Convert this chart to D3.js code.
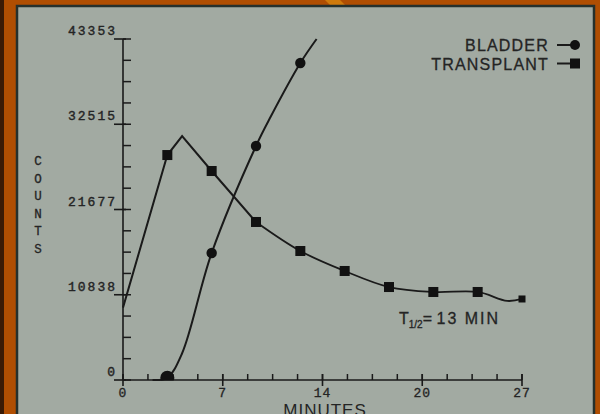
<!DOCTYPE html>
<html><head><meta charset="utf-8">
<script src="https://cdn.jsdelivr.net/npm/d3@7"></script>
<style>
html,body{margin:0;padding:0;background:#b04e02;}
svg{display:block;}
</style></head>
<body>
<svg id="chart" width="600" height="414"></svg>
<script>
// ---- data ----
const yTickValues = [0, 10838.25, 21676.5, 32514.75, 43353];
const yTickLabels = ["0", "10838", "21677", "32515", "43353"];
const xTickValues = [0, 6.75, 13.5, 20.25, 27];
const xTickLabels = ["0", "7", "14", "20", "27"];

const bladderTimes  = [2, 3, 4, 6, 9, 10, 12, 13.1];
const bladderCounts = [0, 300, 3400, 16150, 29750, 33500, 40300, 43353];
const bladderMarked = [false, true, false, true, true, false, true, false];

const transplantTimes  = [0, 3, 4, 6, 9, 12, 15, 18, 21, 24, 26, 27];
const transplantCounts = [9200, 28600, 31000, 26570, 20090, 16400, 13860, 11820, 11190, 11190, 10050, 10300];
const transplantMarked = [false, true, false, true, true, true, true, true, true, true, false, true];

const seriesNames = ["BLADDER", "TRANSPLANT"];

// ---- drawing ----
const svg = d3.select("#chart");
const ink = "#1a1a1a";
const txt = "#242424";

// background frame
svg.append("rect").attr("x",0).attr("y",0).attr("width",600).attr("height",414).attr("fill","#b04e02");
svg.append("rect").attr("x",0).attr("y",0).attr("width",4).attr("height",414).attr("fill","#3a1a05");
svg.append("polygon").attr("points","325,0 340,0 345,5 330,5").attr("fill","#cf7a0c");
svg.append("rect").attr("x",17).attr("y",6).attr("width",577).attr("height",420)
  .attr("fill","#a2aaa2").attr("stroke","#26302c").attr("stroke-width",2.5);

const x = d3.scaleLinear().domain([0,27]).range([123,522]);
const y = d3.scaleLinear().domain([0,43353]).range([380,39]);

svg.append("defs").append("clipPath").attr("id","above")
  .append("rect").attr("x",0).attr("y",0).attr("width",600).attr("height",y(0)+0.5);

// y axis
const g = svg.append("g");
g.append("line").attr("x1",x(0)).attr("x2",x(0)).attr("y1",y(0)).attr("y2",y(43353))
  .attr("stroke",ink).attr("stroke-width",1.6);
const yMinor = d3.range(0, 17).map(i => i*43353/16);
g.selectAll(".ymin").data(yMinor).join("line")
  .attr("x1",x(0)).attr("x2",x(0)+8).attr("y1",d=>y(d)).attr("y2",d=>y(d))
  .attr("stroke",ink).attr("stroke-width",1.5);
g.selectAll(".ymaj").data(yTickValues).join("line")
  .attr("x1",x(0)-9).attr("x2",x(0)+3).attr("y1",d=>y(d)).attr("y2",d=>y(d))
  .attr("stroke",ink).attr("stroke-width",1.6);
g.selectAll(".ylab").data(yTickValues).join("text")
  .attr("x",117).attr("y",d=>y(d)-4)
  .attr("text-anchor","end")
  .attr("font-family","Liberation Mono, monospace").attr("font-size",13)
  .attr("letter-spacing",2).attr("fill",txt).attr("stroke",txt).attr("stroke-width",0.4)
  .text((d,i)=>yTickLabels[i]);

// x axis
g.append("line").attr("x1",x(0)).attr("x2",x(27)).attr("y1",y(0)).attr("y2",y(0))
  .attr("stroke",ink).attr("stroke-width",1.6);
const xMinor = d3.range(0, 17).map(i => i*27/16);
g.selectAll(".xmin").data(xMinor).join("line")
  .attr("x1",d=>x(d)).attr("x2",d=>x(d)).attr("y1",y(0)).attr("y2",y(0)-6)
  .attr("stroke",ink).attr("stroke-width",1.5);
g.selectAll(".xmaj").data(xTickValues).join("line")
  .attr("x1",d=>x(d)).attr("x2",d=>x(d)).attr("y1",y(0)-6).attr("y2",y(0)+6)
  .attr("stroke",ink).attr("stroke-width",1.6);
g.selectAll(".xlab").data(xTickValues).join("text")
  .attr("x",d=>x(d)).attr("y",397)
  .attr("text-anchor","middle")
  .attr("font-family","Liberation Mono, monospace").attr("font-size",13)
  .attr("letter-spacing",1).attr("fill",txt).attr("stroke",txt).attr("stroke-width",0.3)
  .text((d,i)=>xTickLabels[i]);

// axis titles
svg.append("text").attr("x",325).attr("y",416).attr("text-anchor","middle")
  .attr("font-family","Liberation Sans, Arial, sans-serif").attr("font-size",17)
  .attr("letter-spacing",1).attr("fill",txt).text("MINUTES");
const countsLetters = "COUNTS".split("");
svg.selectAll(".cl").data(countsLetters).join("text")
  .attr("x",38).attr("y",(d,i)=>165+i*17.6)
  .attr("text-anchor","middle")
  .attr("font-family","Liberation Mono, monospace").attr("font-size",12.5)
  .attr("fill",txt).attr("stroke",txt).attr("stroke-width",0.3).text(d=>d);

// series
const bladder = bladderTimes.map((t,i)=>({t, v:bladderCounts[i], m:bladderMarked[i]}));
const transplant = transplantTimes.map((t,i)=>({t, v:transplantCounts[i], m:transplantMarked[i]}));

const lineCurve = d3.line().x(d=>x(d.t)).y(d=>y(d.v)).curve(d3.curveCatmullRom.alpha(0.5));
const lineStraight = d3.line().x(d=>x(d.t)).y(d=>y(d.v));

svg.append("path").attr("d",lineCurve(bladder)).attr("fill","none")
  .attr("stroke",ink).attr("stroke-width",2);
svg.append("path").attr("d",lineStraight(transplant.slice(0,5))).attr("fill","none")
  .attr("stroke",ink).attr("stroke-width",2);
svg.append("path").attr("d",lineCurve(transplant.slice(4))).attr("fill","none")
  .attr("stroke",ink).attr("stroke-width",1.8);

svg.selectAll(".bm").data(bladder.filter(d=>d.m)).join("circle")
  .attr("clip-path","url(#above)")
  .attr("cx",d=>x(d.t)).attr("cy",d=>y(d.v)).attr("r",(d,i)=>i===0?7:5.2).attr("fill","#111");
svg.selectAll(".tm").data(transplant.filter(d=>d.m)).join("rect")
  .attr("x",d=>x(d.t)-(d.t===27?3.5:5)).attr("y",d=>y(d.v)-(d.t===27?3.5:5))
  .attr("width",d=>d.t===27?7:10).attr("height",d=>d.t===27?7:10).attr("fill","#111");

// legend
const leg = svg.append("g");
seriesNames.forEach((name,i)=>{
  const ly = 45 + i*18.5;
  leg.append("text").attr("x",549).attr("y",ly+6).attr("text-anchor","end")
    .attr("font-family","Liberation Sans, Arial, sans-serif").attr("font-size",16)
    .attr("letter-spacing",1.2).attr("fill",txt).attr("stroke",txt).attr("stroke-width",0.3).text(name);
  leg.append("line").attr("x1",557).attr("x2",575).attr("y1",ly).attr("y2",ly)
    .attr("stroke",ink).attr("stroke-width",2);
  if(i===0) leg.append("circle").attr("cx",575).attr("cy",ly).attr("r",5).attr("fill","#111");
  else leg.append("rect").attr("x",570).attr("y",ly-5).attr("width",10).attr("height",10).attr("fill","#111");
});

// annotation
const ann = svg.append("text").attr("x",399).attr("y",324)
  .attr("font-family","Liberation Sans, Arial, sans-serif").attr("font-size",16)
  .attr("fill",txt).attr("stroke",txt).attr("stroke-width",0.3);
ann.append("tspan").text("T");
ann.append("tspan").attr("font-size",10).attr("dy",4).text("1/2");
ann.append("tspan").attr("dy",-4).text("= ");
ann.append("tspan").attr("letter-spacing",2).text("13 MIN");
</script>
</body></html>
